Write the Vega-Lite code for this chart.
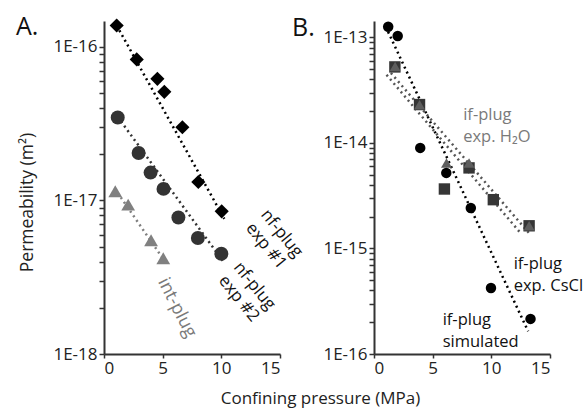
{
  "$schema": "https://vega.github.io/schema/vega-lite/v6.json",
  "background": "white",
  "padding": {"left": 16, "top": 15, "right": 5, "bottom": 5},
  "bounds": "flush",
  "spacing": 94,
  "resolve": {"scale": {"color": "independent", "shape": "independent", "size": "independent"}},
  "config": {
    "font": "Open Sans",
    "view": {"stroke": null},
    "axis": {"domainColor": "#333333", "domainWidth": 2, "tickColor": "#333333", "tickWidth": 1.5, "tickSize": 5, "labelFontSize": 17, "labelColor": "#222222", "titleFontSize": 17, "titleFontWeight": "normal", "titleColor": "#222222", "grid": false, "labelPadding": 2}
  },
  "datasets": {
    "aPts": [
      {"series": "nf-plug exp #1", "p": 1.08, "k": 1.38e-16},
      {"series": "nf-plug exp #1", "p": 2.79, "k": 8.3e-17},
      {"series": "nf-plug exp #1", "p": 4.55, "k": 6.2e-17},
      {"series": "nf-plug exp #1", "p": 5.14, "k": 5.1e-17},
      {"series": "nf-plug exp #1", "p": 6.68, "k": 3.0e-17},
      {"series": "nf-plug exp #1", "p": 8.04, "k": 1.32e-17},
      {"series": "nf-plug exp #1", "p": 10.03, "k": 8.5e-18},
      {"series": "nf-plug exp #2", "p": 1.17, "k": 3.47e-17},
      {"series": "nf-plug exp #2", "p": 2.95, "k": 2.04e-17},
      {"series": "nf-plug exp #2", "p": 3.97, "k": 1.52e-17},
      {"series": "nf-plug exp #2", "p": 5.07, "k": 1.19e-17},
      {"series": "nf-plug exp #2", "p": 6.34, "k": 7.75e-18},
      {"series": "nf-plug exp #2", "p": 8.0, "k": 5.7e-18},
      {"series": "nf-plug exp #2", "p": 10.0, "k": 4.5e-18},
      {"series": "int-plug", "p": 0.96, "k": 1.15e-17},
      {"series": "int-plug", "p": 2.06, "k": 9.4e-18},
      {"series": "int-plug", "p": 4.01, "k": 5.5e-18},
      {"series": "int-plug", "p": 5.05, "k": 4.2e-18}
    ],
    "aLines": [
      {"series": "nf-plug exp #1", "p": 1.08, "k": 1.38e-16},
      {"series": "nf-plug exp #1", "p": 10.25, "k": 7.6e-18},
      {"series": "nf-plug exp #2", "p": 1.17, "k": 3.5e-17},
      {"series": "nf-plug exp #2", "p": 10.17, "k": 4.0e-18},
      {"series": "int-plug", "p": 0.9, "k": 1.2e-17},
      {"series": "int-plug", "p": 5.1, "k": 4.1e-18}
    ],
    "aText": [
      {"series": "nf-plug exp #1", "label": "nf-plug\nexp #1", "p": 15.14, "k": 6.1e-18},
      {"series": "nf-plug exp #2", "label": "nf-plug\nexp #2", "p": 12.82, "k": 2.77e-18},
      {"series": "int-plug", "label": "int-plug", "p": 6.2, "k": 2.0e-18}
    ],
    "bPts": [
      {"series": "exp. CsCl", "p": 1.78, "k": 5.25e-14},
      {"series": "exp. CsCl", "p": 3.88, "k": 2.31e-14},
      {"series": "exp. CsCl", "p": 6.0, "k": 3.66e-15},
      {"series": "exp. CsCl", "p": 8.1, "k": 5.8e-15},
      {"series": "exp. CsCl", "p": 10.17, "k": 2.9e-15},
      {"series": "exp. CsCl", "p": 13.22, "k": 1.64e-15},
      {"series": "exp. H2O", "p": 1.8, "k": 5.3e-14},
      {"series": "exp. H2O", "p": 3.88, "k": 2.3e-14},
      {"series": "exp. H2O", "p": 6.18, "k": 6.46e-15},
      {"series": "exp. H2O", "p": 8.1, "k": 6.46e-15},
      {"series": "exp. H2O", "p": 13.22, "k": 1.64e-15},
      {"series": "simulated", "p": 1.21, "k": 1.26e-13},
      {"series": "simulated", "p": 2.02, "k": 1.03e-13},
      {"series": "simulated", "p": 3.94, "k": 8.97e-15},
      {"series": "simulated", "p": 6.16, "k": 5.2e-15},
      {"series": "simulated", "p": 8.25, "k": 2.42e-15},
      {"series": "simulated", "p": 9.97, "k": 4.22e-16},
      {"series": "simulated", "p": 13.34, "k": 2.15e-16}
    ],
    "bLines": [
      {"series": "simulated", "p": 1.2, "k": 1.13e-13},
      {"series": "simulated", "p": 13.14, "k": 1.64e-16},
      {"series": "exp. H2O", "p": 1.44, "k": 4.6e-14},
      {"series": "exp. H2O", "p": 13.28, "k": 1.37e-15},
      {"series": "exp. CsCl", "p": 1.07, "k": 4.42e-14},
      {"series": "exp. CsCl", "p": 12.56, "k": 1.37e-15}
    ],
    "bText": [
      {"series": "exp. H2O", "label": "if-plug\nexp. H₂O", "p": 7.6, "k": 1.85e-14},
      {"series": "exp. CsCl", "label": "if-plug\nexp. CsCl", "p": 11.9, "k": 7.16e-16},
      {"series": "simulated", "label": "if-plug\nsimulated", "p": 5.85, "k": 2.08e-16}
    ]
  },
  "hconcat": [
    {
      "width": 176,
      "height": 333,
      "title": {"text": "A.", "anchor": "start", "frame": "group", "dx": -88, "dy": 26, "fontSize": 25, "fontWeight": "normal", "color": "#111111"},
      "encoding": {
        "x": {"field": "p", "type": "quantitative", "scale": {"domain": [0, 15], "nice": false}, "axis": {"values": [0, 5, 10, 15], "title": "Confining pressure (MPa)", "titleX": 216, "titleY": 44, "titleBaseline": "middle", "tickSize": 4}},
        "y": {"field": "k", "type": "quantitative", "scale": {"type": "log", "domain": [1e-18, 1.476e-16], "nice": false}, "axis": {"values": [1e-18, 2e-18, 3e-18, 4e-18, 5e-18, 6e-18, 7e-18, 8e-18, 9e-18, 1e-17, 2e-17, 3e-17, 4e-17, 5e-17, 6e-17, 7e-17, 8e-17, 9e-17, 1e-16], "labelExpr": "abs(log(datum.value)/LN10 - round(log(datum.value)/LN10)) < 0.01 ? '1E' + round(log(datum.value)/LN10) : ''", "title": "Permeability (m²)", "titleFontSize": 17.5, "titlePadding": 16, "titleY": 181}}
      },
      "layer": [
        {
          "data": {"name": "aLines"},
          "mark": {"type": "line", "strokeDash": [2, 3.5], "strokeWidth": 2.5},
          "encoding": {
            "detail": {"field": "series"},
            "color": {"field": "series", "type": "nominal", "scale": {"domain": ["nf-plug exp #1", "nf-plug exp #2", "int-plug"], "range": ["#000000", "#333333", "#808080"]}, "legend": null}
          }
        },
        {
          "data": {"name": "aPts"},
          "mark": {"type": "point", "filled": true, "opacity": 1},
          "encoding": {
            "color": {"field": "series", "type": "nominal", "scale": {"domain": ["nf-plug exp #1", "nf-plug exp #2", "int-plug"], "range": ["#000000", "#333333", "#747474"]}, "legend": null},
            "shape": {"field": "series", "type": "nominal", "scale": {"domain": ["nf-plug exp #1", "nf-plug exp #2", "int-plug"], "range": ["diamond", "circle", "triangle-up"]}, "legend": null},
            "size": {"field": "series", "type": "nominal", "scale": {"domain": ["nf-plug exp #1", "nf-plug exp #2", "int-plug"], "range": [200, 190, 170]}, "legend": null}
          }
        },
        {
          "data": {"name": "aText"},
          "transform": [{"filter": "datum.series != 'int-plug'"}],
          "mark": {"type": "text", "angle": 51, "fontSize": 17, "lineBreak": "\n", "align": "center", "baseline": "middle", "lineHeight": 20, "color": "#111111"},
          "encoding": {"text": {"field": "label"}}
        },
        {
          "data": {"name": "aText"},
          "transform": [{"filter": "datum.series == 'int-plug'"}],
          "mark": {"type": "text", "angle": 63, "fontSize": 18, "align": "center", "baseline": "middle", "color": "#7a7a7a"},
          "encoding": {"text": {"field": "label"}}
        }
      ]
    },
    {
      "width": 176,
      "height": 333,
      "title": {"text": "B.", "anchor": "start", "frame": "group", "dx": -82, "dy": 24, "fontSize": 25, "fontWeight": "normal", "color": "#111111"},
      "encoding": {
        "x": {"field": "p", "type": "quantitative", "scale": {"domain": [0, 15], "nice": false}, "axis": {"values": [0, 5, 10, 15], "title": null, "tickSize": 4}},
        "y": {"field": "k", "type": "quantitative", "scale": {"type": "log", "domain": [1e-16, 1.43e-13], "nice": false}, "axis": {"values": [1e-16, 2e-16, 3e-16, 4e-16, 5e-16, 6e-16, 7e-16, 8e-16, 9e-16, 1e-15, 2e-15, 3e-15, 4e-15, 5e-15, 6e-15, 7e-15, 8e-15, 9e-15, 1e-14, 2e-14, 3e-14, 4e-14, 5e-14, 6e-14, 7e-14, 8e-14, 9e-14, 1e-13], "labelExpr": "abs(log(datum.value)/LN10 - round(log(datum.value)/LN10)) < 0.01 ? '1E' + round(log(datum.value)/LN10) : ''", "title": null}}
      },
      "layer": [
        {
          "data": {"name": "bLines"},
          "transform": [{"filter": "datum.series != 'simulated'"}],
          "mark": {"type": "line", "strokeDash": [2, 3.5], "strokeWidth": 2.5, "color": "#555555"},
          "encoding": {"detail": {"field": "series"}}
        },
        {
          "data": {"name": "bLines"},
          "transform": [{"filter": "datum.series == 'simulated'"}],
          "mark": {"type": "line", "strokeDash": [2, 3.5], "strokeWidth": 2.5, "color": "#000000"},
          "encoding": {"detail": {"field": "series"}}
        },
        {
          "data": {"name": "bPts"},
          "mark": {"type": "point", "filled": true, "opacity": 1},
          "encoding": {
            "color": {"field": "series", "type": "nominal", "scale": {"domain": ["exp. CsCl", "exp. H2O", "simulated"], "range": ["#363636", "#5e5e5e", "#000000"]}, "legend": null},
            "shape": {"field": "series", "type": "nominal", "scale": {"domain": ["exp. CsCl", "exp. H2O", "simulated"], "range": ["square", "triangle-up", "circle"]}, "legend": null},
            "size": {"field": "series", "type": "nominal", "scale": {"domain": ["exp. CsCl", "exp. H2O", "simulated"], "range": [130, 110, 180]}, "legend": null}
          }
        },
        {
          "data": {"name": "bText"},
          "transform": [{"filter": "datum.series == 'exp. H2O'"}],
          "mark": {"type": "text", "fontSize": 16.5, "lineBreak": "\n", "align": "left", "baseline": "middle", "lineHeight": 22, "color": "#7a7a7a"},
          "encoding": {"text": {"field": "label"}}
        },
        {
          "data": {"name": "bText"},
          "transform": [{"filter": "datum.series != 'exp. H2O'"}],
          "mark": {"type": "text", "fontSize": 16.5, "lineBreak": "\n", "align": "left", "baseline": "middle", "lineHeight": 22, "color": "#111111"},
          "encoding": {"text": {"field": "label"}}
        }
      ]
    }
  ]
}
